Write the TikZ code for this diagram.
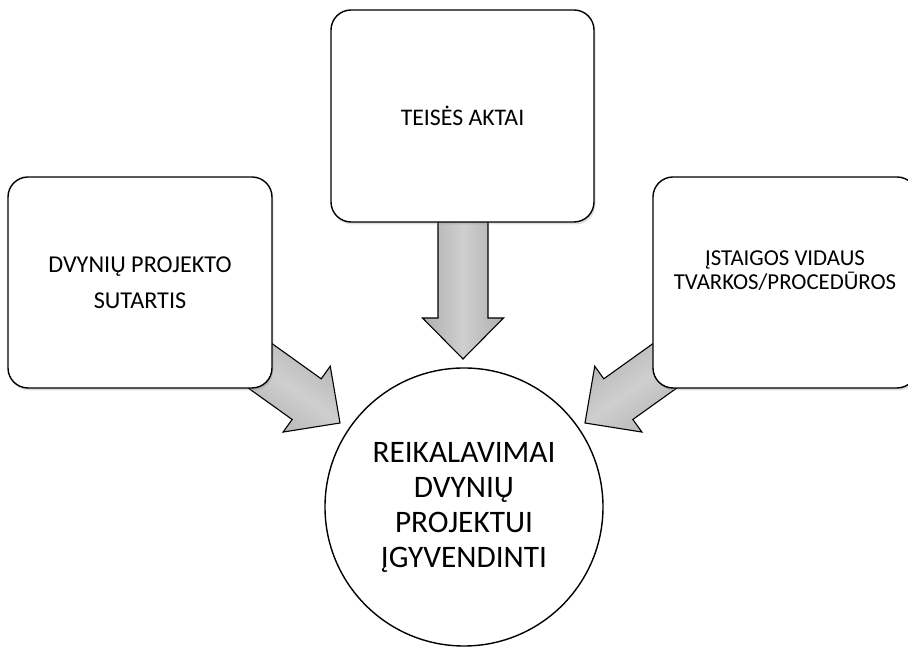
\documentclass[tikz,border=0pt]{standalone}
\usepackage{fontspec}
\setmainfont{Carlito}
\usetikzlibrary{shadows}
\tikzset{
  boxnode/.style={draw=black, line width=1.4pt, fill=white, rounded corners=20pt,
    minimum width=264pt, minimum height=211pt, align=center, inner sep=0pt,
    drop shadow={opacity=0.25, shadow xshift=1.5pt, shadow yshift=-2.5pt}},
  circnode/.style={draw=black, line width=1.4pt, fill=white, circle,
    minimum size=278pt, align=center, inner sep=0pt},
  blockarrow/.style={draw=black, line width=1.1pt, line join=miter,
    top color=gray!62, bottom color=gray!62, middle color=gray!38}
}
\newcommand{\blockarrowshape}[1]{%
  (0,0) -- (-41,40.5) -- (-41,25) -- (-#1,25) -- (-#1,-25) -- (-41,-25) -- (-41,-40.5) -- cycle}
\begin{document}
\begin{tikzpicture}[x=1pt,y=1pt]
\useasboundingbox (0,0) rectangle (908,648);
% arrow tips
\coordinate (ltip) at (340,225);
\coordinate (ttip) at (463,289);
\coordinate (rtip) at (585,225);
% arrows (drawn under the boxes)
\begin{scope}[shift={(ltip)}, rotate=-35.6]
  \path[blockarrow, shading angle=-35.6] \blockarrowshape{130};
\end{scope}
\begin{scope}[shift={(ttip)}, rotate=-90]
  \path[blockarrow, shading angle=-90] \blockarrowshape{170};
\end{scope}
\begin{scope}[shift={(rtip)}, rotate=215.6]
  \path[blockarrow, shading angle=35.6] \blockarrowshape{130};
\end{scope}
% boxes
\node[boxnode, font=\fontsize{24.2}{36}\selectfont] (sutartis) at (140,365.5)
  {DVYNIŲ PROJEKTO\\SUTARTIS};
\node[boxnode, minimum width=263pt, minimum height=212pt, font=\fontsize{23.8}{28}\selectfont] (aktai) at (462.5,532)
  {TEISĖS AKTAI};
\node[boxnode, font=\fontsize{22.8}{24}\selectfont] (tvarkos) at (785,365.5)
  {ĮSTAIGOS VIDAUS\\TVARKOS/PROCEDŪROS\rule[-24pt]{0pt}{1pt}};
% circle
\node[circnode, font=\fontsize{31.3}{35}\selectfont] (reik) at (464,141)
  {REIKALAVIMAI\\DVYNIŲ\\PROJEKTUI\\ĮGYVENDINTI};
\end{tikzpicture}
\end{document}
